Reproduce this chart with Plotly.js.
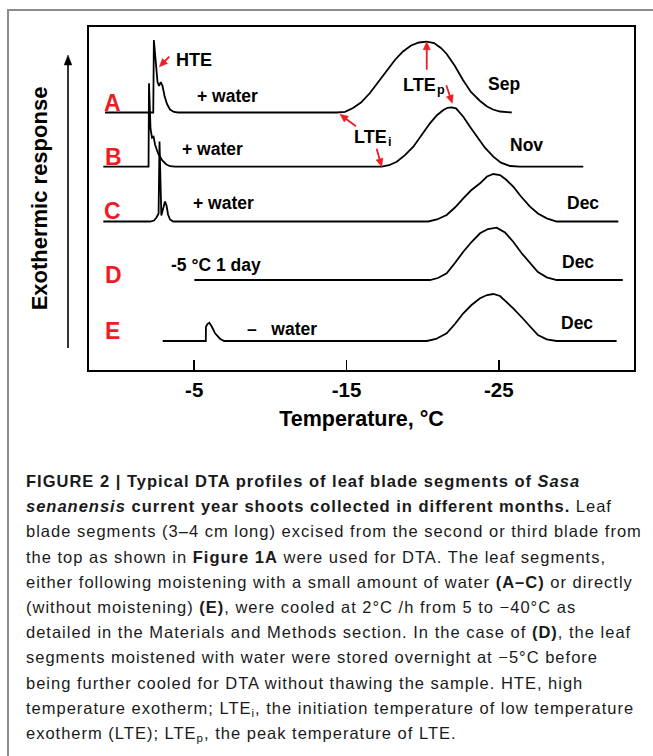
<!DOCTYPE html>
<html><head><meta charset="utf-8"><script src="https://cdn.plot.ly/plotly-3.0.1.min.js"></script><style>
html, body { margin:0; padding:0; background:#fff; width:653px; height:756px; overflow:hidden; position:relative; }
#chart { position:absolute; left:0; top:0; width:653px; height:440px; }
#frame { position:absolute; left:7px; top:9px; width:700px; height:800px; border-top:2px solid #8c8c8c; border-left:2px solid #8c8c8c; pointer-events:none; }
#caption { position:absolute; left:26px; top:469px; font-family:"Liberation Sans", Arial, Helvetica, sans-serif; font-size:16.5px; letter-spacing:1px; line-height:25.2px; color:#1a1a1a; white-space:nowrap; }
#caption sub { font-size:0.7em; line-height:0; vertical-align:-0.25em; }
</style></head><body><div id="chart"></div><div id="frame"></div><div id="caption"><b>FIGURE 2 | Typical DTA profiles of leaf blade segments of <i>Sasa</i></b><br><b><i>senanensis</i> current year shoots collected in different months.</b> Leaf<br>blade segments (3–4 cm long) excised from the second or third blade from<br>the top as shown in <b>Figure 1A</b> were used for DTA. The leaf segments,<br>either following moistening with a small amount of water <b>(A–C)</b> or directly<br>(without moistening) <b>(E)</b>, were cooled at 2°C /h from 5 to −40°C as<br>detailed in the Materials and Methods section. In the case of <b>(D)</b>, the leaf<br>segments moistened with water were stored overnight at −5°C before<br>being further cooled for DTA without thawing the sample. HTE, high<br>temperature exotherm; LTE<sub>i</sub>, the initiation temperature of low temperature<br>exotherm (LTE); LTE<sub>p</sub>, the peak temperature of LTE.</div><script>
// ---- Data (temperature in °C, exothermic response in arbitrary units above each baseline) ----
const tempA = [0.86, -2.31, -2.35, -2.46, -2.59, -2.69, -2.80, -2.92, -3.05, -3.21, -3.41, -3.67, -3.94, -14.36, -14.90, -15.43, -15.95, -16.54, -17.07, -17.64, -18.18, -18.71, -19.24, -19.76, -20.27, -20.75, -21.20, -21.58, -22.12, -22.65, -23.17, -23.77, -24.23, -24.62, -25.08, -25.85];
const respA = [0, 0, 72.5, 50.5, 30.5, 26.5, 30.5, 26.5, 16.5, 8.5, 3, 0.5, 0, 0, 0.7, 4.5, 10, 19.5, 30.5, 42.5, 52.5, 61, 67, 70, 70.8, 69.5, 64.5, 58.5, 46.5, 32.5, 20.5, 11.5, 6, 3, 1, 0];

const tempB = [0.97, -2.00, -2.03, -2.13, -2.23, -2.33, -2.43, -2.62, -2.89, -3.15, -3.41, -3.74, -17.31, -17.79, -18.30, -18.84, -19.39, -19.92, -20.48, -20.94, -21.36, -21.63, -21.91, -22.19, -22.67, -23.11, -23.55, -24.09, -24.64, -25.14, -25.74, -26.39, -30.55];
const respB = [0, 0, 83.4, 38, 29, 30, 22, 13.5, 6.5, 2.5, 0.5, 0, 0, 1.5, 5, 11.5, 20, 31, 43.4, 51.5, 56.7, 58.9, 59.4, 58.3, 50, 40, 30, 19, 10, 4, 0.7, 0, 0];

const tempC = [0.97, -2.10, -2.36, -2.52, -2.66, -2.72, -2.84, -2.98, -3.08, -3.18, -3.28, -3.41, -3.61, -20.37, -20.94, -21.58, -22.12, -22.67, -23.17, -23.77, -24.23, -24.64, -25.08, -25.47, -25.95, -26.46, -27.05, -27.57, -28.15, -28.80, -32.85];
const respC = [0, 0, 1, 4, 8, 80, 6, 14, 20, 16, 7, 2, 0, 0, 2, 6.5, 14, 23.2, 31, 38.2, 45, 47.5, 46.5, 42, 34.8, 25, 14.8, 8, 3.2, 0, 0];

const tempD = [-5.01, -20.48, -21.01, -21.58, -22.12, -22.67, -23.21, -23.77, -24.29, -24.86, -25.41, -25.95, -26.49, -27.05, -27.57, -28.15, -28.80, -33.14];
const respD = [0, 0, 2, 6.7, 17, 28.3, 38, 46.7, 51, 52.3, 47.5, 38.3, 27, 16.7, 8, 2.7, 0, 0];

const tempE = [-2.93, -5.76, -5.77, -5.87, -5.99, -6.17, -6.37, -6.69, -6.96, -20.27, -20.88, -21.58, -22.12, -22.67, -23.21, -23.77, -24.23, -24.64, -25.08, -25.95, -26.49, -27.05, -27.57, -28.15, -28.80, -32.74];
const respE = [0, 0, 14.3, 17, 18.3, 14, 7.7, 2.3, 0, 0, 2, 7.7, 17, 27.7, 36, 42.7, 46, 47, 45, 32.7, 24, 14.3, 6, 1.7, 0, 0];

const curveIds = ['A', 'B', 'C', 'D', 'E'];
const baselineOffsets = [257.5, 203.3, 148.5, 90, 29];
const monthLabels = ['Sep', 'Nov', 'Dec', 'Dec', 'Dec'];
const treatmentLabels = ['+ water', '+ water', '+ water', '-5 °C 1 day', '–\u00a0\u00a0 water'];
const tickVals = [-5, -15, -25];
const tickText = ['-5', '-15', '-25'];

// ---- Build ----
const FONT = '"Liberation Sans", Arial, Helvetica, sans-serif';
const RED = '#ee1c24';
const X_RANGE = [1.91, -33.88];
const Y_RANGE = [0, 343];
const MARGIN = { l: 89, r: 19, t: 27, b: 70, pad: 0 };
const W = 653, H = 440;
const plotW = W - MARGIN.l - MARGIN.r;
const plotH = H - MARGIN.t - MARGIN.b;
const pxPerX = plotW / (X_RANGE[0] - X_RANGE[1]);   // x axis is reversed
const pxPerY = plotH / (Y_RANGE[1] - Y_RANGE[0]);

const temps = [tempA, tempB, tempC, tempD, tempE];
const resps = [respA, respB, respC, respD, respE];

const traces = curveIds.map((id, i) => ({
  type: 'scatter', mode: 'lines', name: id,
  x: temps[i],
  y: resps[i].map(v => v + baselineOffsets[i]),
  line: { color: 'black', width: 1.8 },
  hoverinfo: 'skip', showlegend: false
}));

function txt(x, y, text, size, color, xanchor) {
  return { x: x, y: y, xref: 'x', yref: 'y', text: text, showarrow: false,
    xanchor: xanchor || 'center', yanchor: 'middle',
    font: { family: FONT, size: size, color: color || 'black', weight: 'bold' } };
}

// Arrow drawn as shapes: head point in axis units (or paper), tail given as a screen offset in px.
function arrowShapes(hx, hy, dx, dy, color, usePaper, width, headLen, headHalf) {
  width = width || 1.8; headLen = headLen || 8; headHalf = headHalf || 3.6;
  const len = Math.sqrt(dx * dx + dy * dy);
  const ux = dx / len, uy = dy / len;
  const px = -uy, py = ux;
  const toX = o => usePaper ? hx + o / plotW : hx - o / pxPerX;
  const toY = o => usePaper ? hy - o / plotH : hy - o / pxPerY;
  const xref = usePaper ? 'paper' : 'x', yref = usePaper ? 'paper' : 'y';
  const b1 = [ux * headLen + px * headHalf, uy * headLen + py * headHalf];
  const b2 = [ux * headLen - px * headHalf, uy * headLen - py * headHalf];
  const bc = [ux * (headLen - 1), uy * (headLen - 1)];
  return [
    { type: 'line', xref: xref, yref: yref, layer: 'above',
      x0: toX(dx), y0: toY(dy), x1: toX(bc[0]), y1: toY(bc[1]),
      line: { color: color, width: width } },
    { type: 'path', xref: xref, yref: yref, layer: 'above',
      path: 'M' + toX(0) + ',' + toY(0) + ' L' + toX(b1[0]) + ',' + toY(b1[1]) + ' L' + toX(b2[0]) + ',' + toY(b2[1]) + ' Z',
      fillcolor: color, line: { color: color, width: 0.5 } }
  ];
}

const letterPos = [[0.36, 266.7], [0.30, 213.3], [0.36, 159.3], [0.30, 95.5], [0.36, 39.2]];
const monthPos = [[-25.34, 286], [-26.85, 225], [-30.5, 167], [-30.23, 108.5], [-30.13, 47.5]];
const treatPos = [[-7.19, 274.5], [-6.2, 221], [-6.89, 167.5], [-6.46, 105], [-10.77, 41]];

const annotations = [];
curveIds.forEach((id, i) => {
  annotations.push(txt(letterPos[i][0], letterPos[i][1], id, 23, RED));
  annotations.push(txt(monthPos[i][0], monthPos[i][1], monthLabels[i], 17.5));
  annotations.push(txt(treatPos[i][0], treatPos[i][1], treatmentLabels[i], 17.5));
});
annotations.push(txt(-4.99, 310.4, 'HTE', 18));
// "LTE" with a smaller, lowered subscript letter placed right after it
const lteWidthDeg = 34.5 / pxPerX;
annotations.push(txt(-18.56, 285, 'LTE', 18, 'black', 'left'));
annotations.push(txt(-18.56 - lteWidthDeg, 280.5, 'p', 12.6, 'black', 'left'));
annotations.push(txt(-15.34, 233, 'LTE', 18, 'black', 'left'));
annotations.push(txt(-15.34 - lteWidthDeg, 228.5, 'i', 12.6, 'black', 'left'));

const shapes = [].concat(
  arrowShapes(-2.71, 303.3, 10, -10, RED),
  arrowShapes(-20.27, 328.3, 0, 28, RED),
  arrowShapes(-21.95, 266.7, -6, -18, RED),
  arrowShapes(-14.57, 255.7, 16, 12, RED),
  arrowShapes(-17.31, 203.3, -5, -18, RED),
  // black "exothermic response" arrow left of the plot box
  arrowShapes(-21 / plotW, 315 / plotH, 0, 293, 'black', true, 1.6, 10, 3.8)
);

const layout = {
  width: W, height: H,
  margin: MARGIN,
  paper_bgcolor: 'rgba(0,0,0,0)', plot_bgcolor: 'white',
  showlegend: false,
  font: { family: FONT, color: 'black' },
  xaxis: {
    range: X_RANGE, autorange: false,
    tickmode: 'array', tickvals: tickVals, ticktext: tickText,
    ticks: 'inside', ticklen: 10, tickwidth: 1.5, tickcolor: 'black',
    tickfont: { family: FONT, size: 20.5, weight: 'bold', color: 'black' },
    showgrid: false, zeroline: false, showline: true, mirror: true, linewidth: 2, linecolor: 'black',
    title: { text: 'Temperature, °C', font: { family: FONT, size: 21.5, weight: 'bold', color: 'black' }, standoff: 11 },
    automargin: false
  },
  yaxis: {
    range: Y_RANGE, autorange: false,
    showticklabels: false, ticks: '', showgrid: false, zeroline: false,
    showline: true, mirror: true, linewidth: 2, linecolor: 'black',
    title: { text: 'Exothermic response', font: { family: FONT, size: 22, weight: 'bold', color: 'black' }, standoff: 33 },
    automargin: false
  },
  annotations: annotations,
  shapes: shapes
};

Plotly.newPlot('chart', traces, layout, { staticPlot: true, displayModeBar: false });
</script></body></html>
